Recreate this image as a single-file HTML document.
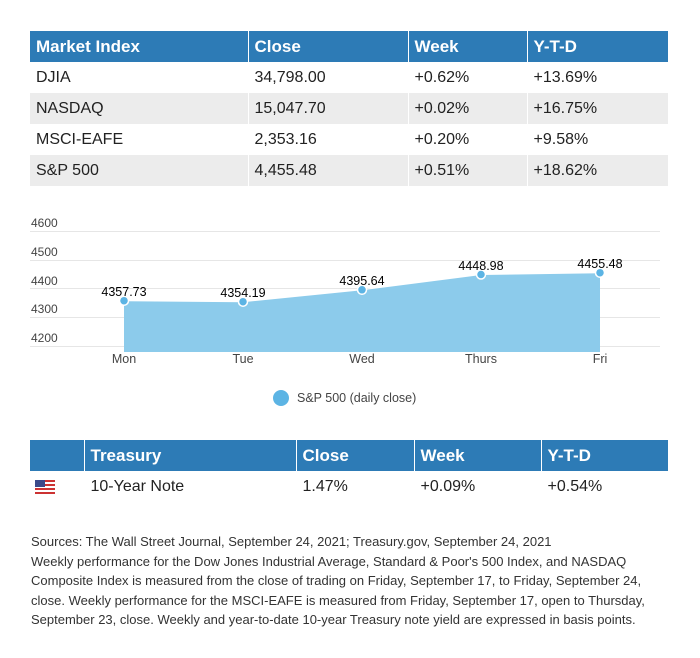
<!DOCTYPE html>
<html><head><meta charset="utf-8"><style>
body{margin:0;background:#fff;width:700px;height:658px;position:relative;font-family:"Liberation Sans",sans-serif;color:#333;overflow:hidden}
.t{position:absolute;border-collapse:collapse;table-layout:fixed}
.t td{height:31px;padding:0 0 0 6px;font-size:16px;border-left:1px solid #fff;box-sizing:border-box;color:#222}
.t td:first-child{border-left:none}
.t tr.h td{background:#2d7bb6;color:#fff;font-weight:bold;font-size:17px}
.t tr.g td{background:#ececec}
.src{position:absolute;left:31px;top:532px;font-size:13px;line-height:19.5px;color:#333;width:615px}
</style></head><body>
<table class="t" style="left:30px;top:31px;width:638px">
<colgroup><col style="width:218px"><col style="width:160px"><col style="width:119px"><col style="width:141px"></colgroup>
<tr class="h"><td>Market Index</td><td>Close</td><td>Week</td><td>Y-T-D</td></tr>
<tr><td>DJIA</td><td>34,798.00</td><td>+0.62%</td><td>+13.69%</td></tr>
<tr class="g"><td>NASDAQ</td><td>15,047.70</td><td>+0.02%</td><td>+16.75%</td></tr>
<tr><td>MSCI-EAFE</td><td>2,353.16</td><td>+0.20%</td><td>+9.58%</td></tr>
<tr class="g"><td>S&amp;P 500</td><td>4,455.48</td><td>+0.51%</td><td>+18.62%</td></tr>
</table>
<svg style="position:absolute;left:0;top:0" width="700" height="430" font-family="Liberation Sans, sans-serif">
<g stroke="#e6e6e6" stroke-width="1">
<line x1="30" x2="660" y1="231.5" y2="231.5"/><line x1="30" x2="660" y1="260.5" y2="260.5"/>
<line x1="30" x2="660" y1="288.5" y2="288.5"/><line x1="30" x2="660" y1="317.5" y2="317.5"/>
<line x1="30" x2="660" y1="346.5" y2="346.5"/></g>
<g font-size="12" fill="#444"><text x="31" y="227">4600</text><text x="31" y="256">4500</text><text x="31" y="285">4400</text><text x="31" y="313">4300</text><text x="31" y="342">4200</text></g>
<polygon points="124,352 124,300.7 243,301.7 362,289.8 481,274.5 600,272.7 600,352" fill="#8ccbeb"/>
<polyline points="124,300.7 243,301.7 362,289.8 481,274.5 600,272.7" fill="none" stroke="#fff" stroke-width="1"/>
<g fill="#5cb4e4" stroke="#fff" stroke-width="1.5">
<circle cx="124" cy="300.7" r="4.5"/><circle cx="243" cy="301.7" r="4.5"/><circle cx="362" cy="289.8" r="4.5"/><circle cx="481" cy="274.5" r="4.5"/><circle cx="600" cy="272.7" r="4.5"/></g>
<g font-size="12.5" fill="#000" text-anchor="middle">
<text x="124" y="296">4357.73</text><text x="243" y="297">4354.19</text><text x="362" y="285">4395.64</text><text x="481" y="270">4448.98</text><text x="600" y="268">4455.48</text></g>
<g font-size="12.5" fill="#444" text-anchor="middle">
<text x="124" y="363">Mon</text><text x="243" y="363">Tue</text><text x="362" y="363">Wed</text><text x="481" y="363">Thurs</text><text x="600" y="363">Fri</text></g>
<circle cx="281" cy="398" r="8" fill="#5cb4e4"/>
<text x="297" y="402" font-size="12.5" fill="#444">S&amp;P 500 (daily close)</text>
</svg>
<table class="t" style="left:30px;top:440px;width:638px">
<colgroup><col style="width:54px"><col style="width:212px"><col style="width:118px"><col style="width:127px"><col style="width:127px"></colgroup>
<tr class="h"><td></td><td>Treasury</td><td>Close</td><td>Week</td><td>Y-T-D</td></tr>
<tr><td style="padding-left:5px"><svg width="20" height="14" style="display:block"><g fill="#c33"><rect y="0" width="20" height="2"/><rect y="4" width="20" height="2"/><rect y="8" width="20" height="2"/><rect y="12" width="20" height="2"/></g><rect width="10" height="7" fill="#3b4a8a"/></svg></td><td>10-Year Note</td><td>1.47%</td><td>+0.09%</td><td>+0.54%</td></tr>
</table>
<div class="src">Sources: The Wall Street Journal, September 24, 2021; Treasury.gov, September 24, 2021<br>Weekly performance for the Dow Jones Industrial Average, Standard &amp; Poor's 500 Index, and NASDAQ Composite Index is measured from the close of trading on Friday, September 17, to Friday, September 24, close. Weekly performance for the MSCI-EAFE is measured from Friday, September 17, open to Thursday, September 23, close. Weekly and year-to-date 10-year Treasury note yield are expressed in basis points.</div>
</body></html>
